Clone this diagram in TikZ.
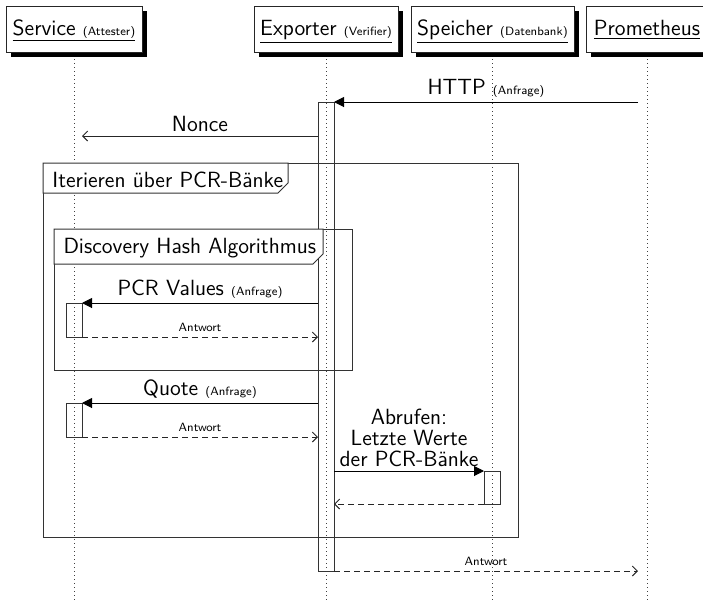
\documentclass[tikz,border=0pt]{standalone}
\usetikzlibrary{arrows.meta,shadows}
\newcommand{\smalltxt}[1]{{\fontsize{6}{7}\selectfont #1}}
\begin{document}
\begin{tikzpicture}[x=0.5pt,y=-0.5pt,
  font=\sffamily\fontsize{11}{13}\selectfont,
  line width=0.5pt,
  header/.style={draw=black!85, fill=white, minimum height=23pt, inner sep=0pt,
    text height=9pt, text depth=3pt,
    drop shadow={shadow xshift=2.5pt, shadow yshift=-2.5pt, opacity=1, fill=black}},
  lifeline/.style={black!75, line width=0.45pt, dash pattern=on 0.5pt off 1.5pt},
  actbox/.style={draw=black!80, line width=0.5pt},
  framebox/.style={draw=black!80, line width=0.5pt},
  tabbox/.style={draw=black!80, fill=white, line width=0.5pt},
  call/.style={draw=black, -{Triangle[length=5pt,width=5pt]}},
  msg/.style={draw=black!85, -{Straight Barb[length=2.5pt,width=5pt]}},
  reply/.style={draw=black!85, dash pattern=on 3pt off 2pt, -{Straight Barb[length=2.5pt,width=5pt]}},
  lbl/.style={above, inner sep=2pt},
  smalllbl/.style={above, inner sep=2.5pt, font=\sffamily\fontsize{6}{7}\selectfont}]
\useasboundingbox (0,0) rectangle (703,601);

% lifelines
\coordinate (svcTop) at (74,55);   \coordinate (svcBot) at (74,601);
\coordinate (expTop) at (326,55);  \coordinate (expBot) at (326,601);
\coordinate (dbTop) at (492,55);   \coordinate (dbBot) at (492,601);
\coordinate (proTop) at (647,55);  \coordinate (proBot) at (647,601);
\draw[lifeline] (svcTop) -- (svcBot);
\draw[lifeline] (expTop) -- (expBot);
\draw[lifeline] (dbTop) -- (dbBot);
\draw[lifeline] (proTop) -- (proBot);

% object headers
\node[header, minimum width=68pt] (svc) at (74,29) {\underline{Service \smalltxt{(Attester)}}};
\node[header, minimum width=72pt] (exp) at (326,29) {\underline{Exporter \smalltxt{(Verifier)}}};
\node[header, minimum width=81.5pt] (db) at (492.5,29) {\underline{Speicher \smalltxt{(Datenbank)}}};
\node[header, minimum width=61pt] (pro) at (647,29) {\underline{Prometheus}};

% activations
\draw[actbox] (318,102) rectangle (334,571);
\draw[actbox] (66,303) rectangle (82,337);
\draw[actbox] (66,403) rectangle (82,437);
\draw[actbox] (484,471) rectangle (500,504);

% loop frame
\draw[framebox] (43,163) rectangle (518,537);
\draw[tabbox] (43,163) -- (43,193) -- (278,193) -- (288,183) -- (288,163) -- cycle;
\node[anchor=base west, inner sep=0pt] (loopLbl) at (52,187) {Iterieren über PCR-Bänke};

% inner frame
\draw[framebox] (54,229) rectangle (352,370);
\draw[tabbox] (54,229) -- (54,264) -- (313,264) -- (323,254) -- (323,229) -- cycle;
\node[anchor=base west, inner sep=0pt] (discLbl) at (63,253) {Discovery Hash Algorithmus};

% message end points
\coordinate (httpS) at (638,102);  \coordinate (httpE) at (334,102);
\coordinate (nonceS) at (318,136); \coordinate (nonceE) at (82,136);
\coordinate (pcrS) at (318,303);   \coordinate (pcrE) at (82,303);
\coordinate (pcrRS) at (82,337);   \coordinate (pcrRE) at (318,337);
\coordinate (qS) at (318,403);     \coordinate (qE) at (82,403);
\coordinate (qRS) at (82,437);     \coordinate (qRE) at (318,437);
\coordinate (abS) at (334,471);    \coordinate (abE) at (484,471);
\coordinate (abRS) at (484,504);   \coordinate (abRE) at (334,504);
\coordinate (finS) at (334,571);   \coordinate (finE) at (638,571);

% messages
\draw[call] (httpS) -- node[lbl] (httpLbl) {HTTP \smalltxt{(Anfrage)}} (httpE);
\draw[msg] (nonceS) -- node[lbl] (nonceLbl) {Nonce} (nonceE);
\draw[call] (pcrS) -- node[lbl] (pcrLbl) {PCR Values \smalltxt{(Anfrage)}} (pcrE);
\draw[reply] (pcrRS) -- node[smalllbl] (pcrRLbl) {Antwort} (pcrRE);
\draw[call] (qS) -- node[lbl] (qLbl) {Quote \smalltxt{(Anfrage)}} (qE);
\draw[reply] (qRS) -- node[smalllbl] (qRLbl) {Antwort} (qRE);
\draw[call] (abS) -- node[lbl, align=center, font=\sffamily\fontsize{11}{10.5}\selectfont] (abLbl) {Abrufen:\\Letzte Werte\\der PCR-Bänke} (abE);
\draw[reply] (abRS) -- (abRE);
\draw[reply] (finS) -- node[smalllbl] (finLbl) {Antwort} (finE);
\end{tikzpicture}
\end{document}
